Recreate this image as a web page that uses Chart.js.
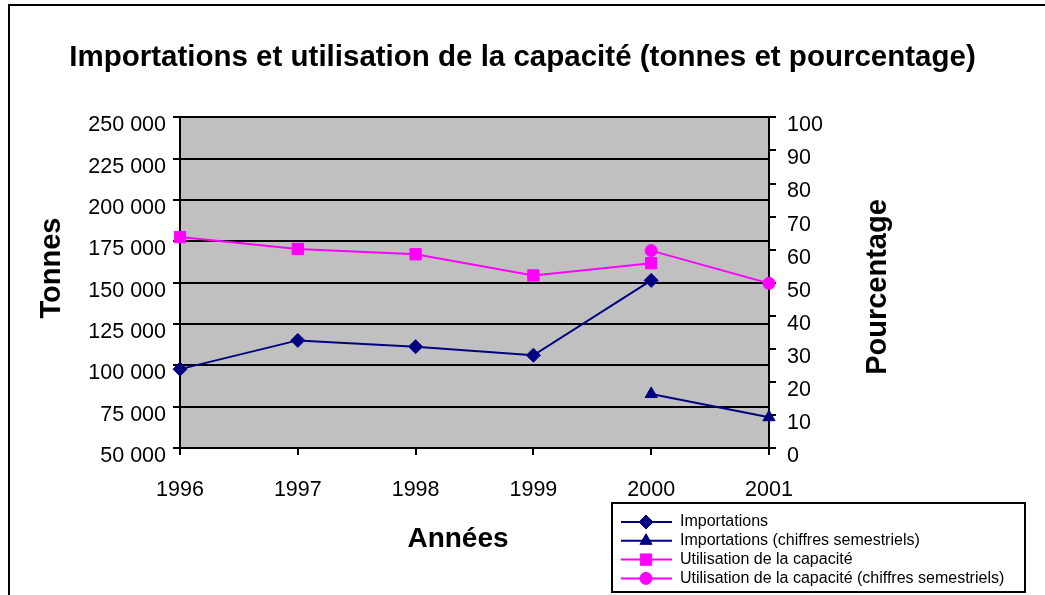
<!DOCTYPE html>
<html lang="fr">
<head>
<meta charset="utf-8">
<title>Importations et utilisation de la capacité</title>
<script src="https://cdn.jsdelivr.net/npm/chart.js"></script>
<style>
  html, body { margin: 0; padding: 0; background: #fff; }
  canvas { display: block; }
</style>
</head>
<body>
<canvas id="chart" width="1045" height="595"></canvas>
<script>
const years = ['1996', '1997', '1998', '1999', '2000', '2001'];
const importations = [97700, 115100, 111300, 106100, 151400, null];
const importationsSem = [null, null, null, null, 82700, 68600];
const utilisation = [63.8, 60.2, 58.6, 52.2, 55.9, null];
const utilisationSem = [null, null, null, null, 59.7, 49.8];
const tonnesTicks = [50000, 75000, 100000, 125000, 150000, 175000, 200000, 225000, 250000];
const pctTicks = [0, 10, 20, 30, 40, 50, 60, 70, 80, 90, 100];

const chartTitle = 'Importations et utilisation de la capacité (tonnes et pourcentage)';
const leftTitle = 'Tonnes';
const rightTitle = 'Pourcentage';
const xTitle = 'Années';

const FONT = '"Liberation Sans", Arial, sans-serif';
const NAVY = '#000080';
const MAGENTA = '#FF00FF';

function fmtTonnes(v) {
    return String(v).replace(/\B(?=(\d{3})+(?!\d))/g, ' ');
}

// fond blanc, zone grise, cadre du graphique
const frame = {
    id: 'frame',
    beforeDraw(chart) {
        const { ctx, chartArea: a } = chart;
        ctx.save();
        ctx.fillStyle = '#fff';
        ctx.fillRect(0, 0, chart.width, chart.height);
        ctx.fillStyle = '#C0C0C0';
        ctx.fillRect(a.left, a.top, a.right - a.left, a.bottom - a.top);
        ctx.strokeStyle = '#000';
        ctx.lineWidth = 2;
        ctx.strokeRect(9, 5, chart.width + 20, chart.height + 20);
        ctx.restore();
    }
};

// titres des axes (verticaux lus de bas en haut des deux côtés)
const axisTitles = {
    id: 'axisTitles',
    afterDraw(chart) {
        const { ctx } = chart;
        ctx.save();
        ctx.fillStyle = '#000';
        ctx.font = 'bold 29px ' + FONT;
        ctx.textAlign = 'center';
        ctx.textBaseline = 'middle';
        [[leftTitle, 52, 268], [rightTitle, 878, 287]].forEach(([t, x, y]) => {
            ctx.save();
            ctx.translate(x, y);
            ctx.rotate(-Math.PI / 2);
            ctx.fillText(t, 0, 0);
            ctx.restore();
        });
        ctx.font = 'bold 28px ' + FONT;
        ctx.fillText(xTitle, 458, 539);
        ctx.restore();
    }
};

// légende encadrée en bas à droite
const legendBox = {
    id: 'legendBox',
    afterDraw(chart) {
        const { ctx } = chart;
        const x = 612, y = 503, w = 413, h = 89;
        ctx.save();
        ctx.fillStyle = '#fff';
        ctx.fillRect(x, y, w, h);
        ctx.strokeStyle = '#000';
        ctx.lineWidth = 2;
        ctx.strokeRect(x, y, w, h);
        ctx.font = '16px ' + FONT;
        ctx.textBaseline = 'middle';
        ctx.textAlign = 'left';
        chart.data.datasets.forEach((ds, i) => {
            const ry = 522 + i * 18.8;
            ctx.strokeStyle = ds.borderColor;
            ctx.lineWidth = 2;
            ctx.beginPath();
            ctx.moveTo(621, ry);
            ctx.lineTo(672, ry);
            ctx.stroke();
            ctx.fillStyle = ds.backgroundColor;
            ctx.lineWidth = 1;
            Chart.helpers.drawPoint(ctx, {
                pointStyle: ds.pointStyle, radius: ds.pointRadius, borderWidth: 1, rotation: 0
            }, 646, ry);
            ctx.fillStyle = '#000';
            ctx.fillText(ds.label, 680, ry);
        });
        ctx.restore();
    }
};

const tickFont = { family: FONT, size: 21.5 };

new Chart(document.getElementById('chart'), {
    type: 'line',
    data: {
        labels: years,
        datasets: [
            {
                label: 'Importations', data: importations, yAxisID: 'y',
                borderColor: NAVY, backgroundColor: NAVY, borderWidth: 2,
                pointStyle: 'rectRot', pointRadius: 7, pointBorderWidth: 1
            },
            {
                label: 'Importations (chiffres semestriels)', data: importationsSem, yAxisID: 'y',
                borderColor: NAVY, backgroundColor: NAVY, borderWidth: 2,
                pointStyle: 'triangle', pointRadius: 7, pointBorderWidth: 1
            },
            {
                label: 'Utilisation de la capacité', data: utilisation, yAxisID: 'y1',
                borderColor: MAGENTA, backgroundColor: MAGENTA, borderWidth: 2,
                pointStyle: 'rect', pointRadius: 8, pointBorderWidth: 1
            },
            {
                label: 'Utilisation de la capacité (chiffres semestriels)', data: utilisationSem, yAxisID: 'y1',
                borderColor: MAGENTA, backgroundColor: MAGENTA, borderWidth: 2,
                pointStyle: 'circle', pointRadius: 6, pointBorderWidth: 1
            }
        ]
    },
    options: {
        responsive: false,
        animation: false,
        events: [],
        layout: { padding: 0 },
        plugins: {
            legend: { display: false },
            tooltip: { enabled: false },
            title: {
                display: true,
                text: chartTitle,
                color: '#000',
                font: { family: FONT, size: 29.5, weight: 'bold' },
                padding: { top: 40, bottom: 42 }
            }
        },
        scales: {
            x: {
                offset: false,
                grid: { drawOnChartArea: false, color: '#000', lineWidth: 2, tickLength: 7 },
                border: { color: '#000', width: 2 },
                ticks: { color: '#000', font: tickFont, padding: 22, maxRotation: 0 },
                afterFit(s) { s.height = 147; }
            },
            y: {
                position: 'left',
                min: 50000,
                max: 250000,
                afterBuildTicks(s) { s.ticks = tonnesTicks.map(v => ({ value: v })); },
                grid: { color: '#000', lineWidth: 2, tickLength: 7 },
                border: { color: '#000', width: 2 },
                ticks: { color: '#000', font: tickFont, padding: 7, labelOffset: 8, callback: fmtTonnes },
                afterFit(s) { s.width = 180; }
            },
            y1: {
                position: 'right',
                min: 0,
                max: 100,
                afterBuildTicks(s) { s.ticks = pctTicks.map(v => ({ value: v })); },
                grid: { drawOnChartArea: false, color: '#000', lineWidth: 2, tickLength: 7 },
                border: { color: '#000', width: 2 },
                ticks: { color: '#000', font: tickFont, padding: 11, labelOffset: 8 },
                afterFit(s) { s.width = 276; }
            }
        }
    },
    plugins: [frame, axisTitles, legendBox]
});
</script>
</body>
</html>
